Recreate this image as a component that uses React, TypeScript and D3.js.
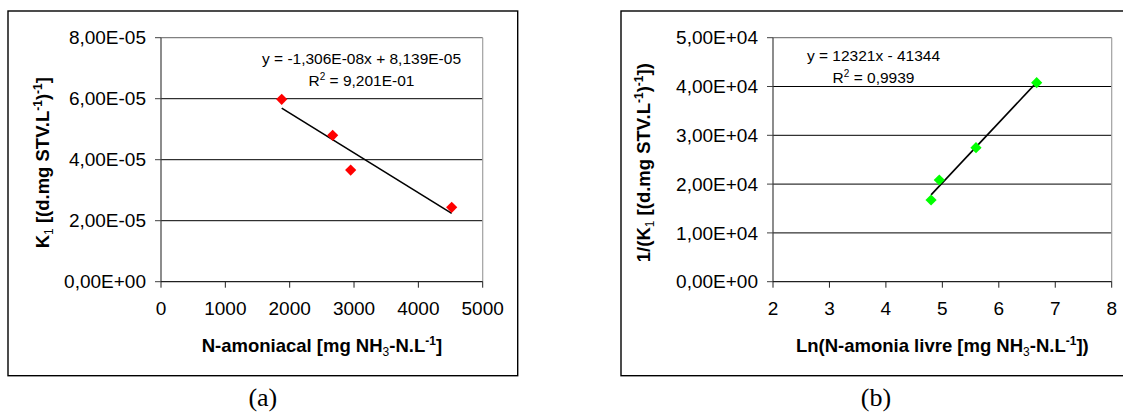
import React from "react";
import * as d3 from "d3";

// ---------- data ----------
const aX = [1876, 2668, 2948, 4518];
const aY = [5.98e-5, 4.8e-5, 3.66e-5, 2.44e-5];
const aSlope = -1.306e-8;
const aIntercept = 8.139e-5;
const aXTicks = [0, 1000, 2000, 3000, 4000, 5000];
const aYTicks = [0, 2e-5, 4e-5, 6e-5, 8e-5];
const aYTickLabels = ["0,00E+00", "2,00E-05", "4,00E-05", "6,00E-05", "8,00E-05"];
const aEq = ["y = -1,306E-08x + 8,139E-05", " = 9,201E-01"];

const bX = [4.8, 4.946, 5.596, 6.671];
const bY = [16740, 20840, 27460, 40780];
const bSlope = 12321;
const bIntercept = -41344;
const bXTicks = [2, 3, 4, 5, 6, 7, 8];
const bYTicks = [0, 1e4, 2e4, 3e4, 4e4, 5e4];
const bYTickLabels = ["0,00E+00", "1,00E+04", "2,00E+04", "3,00E+04", "4,00E+04", "5,00E+04"];
const bEq = ["y = 12321x - 41344", " = 0,9939"];

type Seg = [string, "n" | "sub" | "sup"];
const aXTitle: Seg[] = [["N-amoniacal [mg NH", "n"], ["3", "sub"], ["-N.L", "n"], ["-1", "sup"], ["]", "n"]];
const bXTitle: Seg[] = [["Ln(N-amonia livre [mg NH", "n"], ["3", "sub"], ["-N.L", "n"], ["-1", "sup"], ["])", "n"]];
const aYTitle: Seg[] = [["K", "n"], ["1", "sub"], [" [(d.mg STV.L", "n"], ["-1", "sup"], [")", "n"], ["-1", "sup"], ["]", "n"]];
const bYTitle: Seg[] = [["1/(K", "n"], ["1", "sub"], [" [(d.mg STV.L", "n"], ["-1", "sup"], [")", "n"], ["-1", "sup"], ["])", "n"]];

const FONT = "'Liberation Sans', Arial, Helvetica, sans-serif";
const TICK_FS = 19;
const TITLE_FS = 18.5;
const EQ_FS = 15.5;
const SUP_FS = 12;

function Rich({ segs }: { segs: Seg[] }) {
  let level = 0;
  return (
    <>
      {segs.map(([t, k], i) => {
        const target = k === "sub" ? 4 : k === "sup" ? -7 : 0;
        const dy = target - level;
        level = target;
        return (
          <tspan
            key={i}
            dy={dy}
            fontSize={k === "n" ? undefined : SUP_FS}
            fontWeight={k === "sub" ? "normal" : undefined}
          >
            {t}
          </tspan>
        );
      })}
    </>
  );
}

type PanelProps = {
  frame: [number, number, number, number];
  plot: [number, number, number, number];
  xDomain: [number, number];
  yDomain: [number, number];
  xTicks: number[];
  yTicks: number[];
  yTickLabels: string[];
  xs: number[];
  ys: number[];
  slope: number;
  intercept: number;
  color: string;
  eq: string[];
  eqX: number;
  eqY: number;
  xTitle: Seg[];
  yTitle: Seg[];
  yTitleX: number;
  caption: string;
};

function Panel(p: PanelProps) {
  const [fx0, fy0, fx1, fy1] = p.frame;
  const [px0, py0, px1, py1] = p.plot;
  const x = d3.scaleLinear().domain(p.xDomain).range([px0, px1]);
  const y = d3.scaleLinear().domain(p.yDomain).range([py1, py0]);
  const xmin = d3.min(p.xs) as number;
  const xmax = d3.max(p.xs) as number;
  const line = d3
    .line<number>()
    .x((v) => x(v))
    .y((v) => y(p.slope * v + p.intercept));
  const diamond = d3.symbol().type(d3.symbolDiamond2).size(80)() as string;
  const cx = (px0 + px1) / 2;
  const cy = (py0 + py1) / 2;
  return (
    <g>
      <rect x={fx0} y={fy0} width={fx1 - fx0} height={fy1 - fy0} fill="#fff" stroke="#000" strokeWidth={1.4} />
      {p.yTicks
        .filter((t) => t !== p.yDomain[0] && t !== p.yDomain[1])
        .map((t) => (
          <line key={"g" + t} x1={px0} x2={px1} y1={y(t)} y2={y(t)} stroke="#000" strokeWidth={1} />
        ))}
      <line x1={px0} x2={px1} y1={py0} y2={py0} stroke="#808080" strokeWidth={1.2} />
      <line x1={px1} x2={px1} y1={py0} y2={py1} stroke="#a0a0a0" strokeWidth={1.2} />
      <line x1={px0} x2={px0} y1={py0} y2={py1} stroke="#404040" strokeWidth={1.2} />
      <line x1={px0} x2={px1} y1={py1} y2={py1} stroke="#202020" strokeWidth={1.2} />
      {p.yTicks.map((t, i) => (
        <g key={"yt" + t}>
          <line x1={px0 - 6} x2={px0} y1={y(t)} y2={y(t)} stroke="#404040" strokeWidth={1} />
          <text x={px0 - 15} y={y(t)} dy="0.35em" textAnchor="end" fontFamily={FONT} fontSize={TICK_FS} fill="#000">
            {p.yTickLabels[i]}
          </text>
        </g>
      ))}
      {p.xTicks.map((t) => (
        <g key={"xt" + t}>
          <line x1={x(t)} x2={x(t)} y1={py1} y2={py1 + 6} stroke="#202020" strokeWidth={1} />
          <text x={x(t)} y={py1 + 33} textAnchor="middle" fontFamily={FONT} fontSize={TICK_FS} fill="#000">
            {t}
          </text>
        </g>
      ))}
      <path d={line([xmin, xmax]) as string} stroke="#000" strokeWidth={1.6} fill="none" />
      {p.xs.map((v, i) => (
        <path key={"p" + i} d={diamond} transform={`translate(${x(v)},${y(p.ys[i])})`} fill={p.color} />
      ))}
      <text x={p.eqX} y={p.eqY} textAnchor="middle" fontFamily={FONT} fontSize={EQ_FS} fill="#000">
        {p.eq[0]}
      </text>
      <text x={p.eqX} y={p.eqY + 22} textAnchor="middle" fontFamily={FONT} fontSize={EQ_FS} fill="#000">
        <tspan>R</tspan>
        <tspan fontSize={10} dy={-6}>
          2
        </tspan>
        <tspan dy={6}>{p.eq[1]}</tspan>
      </text>
      <text x={cx} y={py1 + 70} textAnchor="middle" fontFamily={FONT} fontSize={TITLE_FS} fontWeight="bold" fill="#000">
        <Rich segs={p.xTitle} />
      </text>
      <text
        transform={`translate(${p.yTitleX},${cy + 3}) rotate(-90)`}
        textAnchor="middle"
        fontFamily={FONT}
        fontSize={TITLE_FS}
        fontWeight="bold"
        fill="#000"
      >
        <Rich segs={p.yTitle} />
      </text>
      <text
        x={(fx0 + fx1) / 2}
        y={406}
        textAnchor="middle"
        fontFamily="'Liberation Serif', 'Times New Roman', serif"
        fontSize={26}
        fill="#000"
      >
        {p.caption}
      </text>
    </g>
  );
}

export default function App() {
  return (
    <svg width={1123} height={419} style={{ position: "absolute", left: 0, top: 0, background: "#fff" }}>
      <rect x={0} y={0} width={1123} height={419} fill="#fff" />
      <Panel
        frame={[8, 11, 517.7, 375.7]}
        plot={[161, 37.7, 482.7, 281.7]}
        xDomain={[0, 5000]}
        yDomain={[0, 8e-5]}
        xTicks={aXTicks}
        yTicks={aYTicks}
        yTickLabels={aYTickLabels}
        xs={aX}
        ys={aY}
        slope={aSlope}
        intercept={aIntercept}
        color="#ff0000"
        eq={aEq}
        eqX={361.5}
        eqY={64}
        xTitle={aXTitle}
        yTitle={aYTitle}
        yTitleX={48.5}
        caption="(a)"
      />
      <Panel
        frame={[621, 11, 1131, 375.7]}
        plot={[773, 37.7, 1111.7, 281.7]}
        xDomain={[2, 8]}
        yDomain={[0, 5e4]}
        xTicks={bXTicks}
        yTicks={bYTicks}
        yTickLabels={bYTickLabels}
        xs={bX}
        ys={bY}
        slope={bSlope}
        intercept={bIntercept}
        color="#00ff00"
        eq={bEq}
        eqX={873.5}
        eqY={60.5}
        xTitle={bXTitle}
        yTitle={bYTitle}
        yTitleX={650}
        caption="(b)"
      />
    </svg>
  );
}
